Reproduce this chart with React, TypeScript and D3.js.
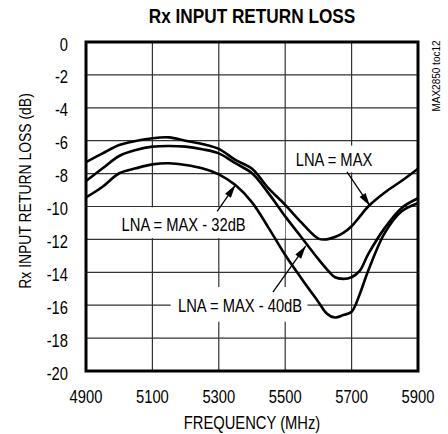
import React from "react";
import * as d3 from "d3";

const TITLE = "Rx INPUT RETURN LOSS";
const X_LABEL = "FREQUENCY (MHz)";
const Y_LABEL = "Rx INPUT RETURN LOSS (dB)";
const TOC = "MAX2850 toc12";

const X_TICKS = [4900, 5100, 5300, 5500, 5700, 5900];
const X_GRID = [5100, 5300, 5500, 5700];
const Y_TICKS = [0, -2, -4, -6, -8, -10, -12, -14, -16, -18, -20];

const FREQ = [4900, 4950, 5000, 5050, 5100, 5150, 5200, 5250, 5300, 5350, 5400, 5450, 5500, 5550, 5600, 5625, 5650, 5675, 5700, 5725, 5750, 5800, 5850, 5900];
const LNA_MAX = [-7.3, -6.77, -6.26, -6.02, -5.85, -5.8, -6.0, -6.2, -6.5, -7.17, -7.7, -8.9, -9.9, -11.0, -11.95, -12.0, -11.85, -11.6, -11.2, -10.6, -10.0, -9.15, -8.45, -7.7];
const LNA_MAX_40 = [-8.45, -7.68, -6.93, -6.57, -6.36, -6.32, -6.36, -6.52, -6.77, -7.37, -7.98, -9.2, -10.6, -11.9, -13.2, -13.8, -14.3, -14.4, -14.3, -13.9, -12.9, -11.3, -10.1, -9.5];
const LNA_MAX_32 = [-9.45, -8.8, -7.98, -7.68, -7.44, -7.37, -7.48, -7.68, -8.05, -8.7, -9.75, -11.3, -12.95, -14.4, -15.8, -16.5, -16.75, -16.6, -16.4, -15.3, -13.9, -11.6, -10.3, -9.8];

const SERIES = [LNA_MAX, LNA_MAX_40, LNA_MAX_32];

const ANNOTATIONS = [
  { text: "LNA = MAX", tx: 5647, ty: -7.17, box: [5612, 5876, -6.3, -7.92], from: [5686, -7.9], to: [5755, -9.95] },
  { text: "LNA = MAX - 32dB", tx: 5194, ty: -11.12, box: [4990, 5500, -10.05, -11.92], from: [5295, -10.3], to: [5350, -8.7] },
  { text: "LNA = MAX - 40dB", tx: 5364, ty: -16.02, box: [5155, 5567, -14.9, -17.0], from: [5463, -15.2], to: [5562, -12.4] },
];

const W = 448;
const H = 434;
const M = { left: 86, right: 418, top: 42, bottom: 371 };
const FONT = "'Liberation Sans', Arial, sans-serif";
const SX = 0.82;

type TP = { x: number; y: number; size: number; anchor?: string; rotate?: number; bold?: boolean; children: React.ReactNode; sx?: number };
function NText({ x, y, size, anchor = "middle", rotate = 0, bold = false, children, sx = SX }: TP) {
  return (
    <text
      transform={`translate(${x},${y}) rotate(${rotate}) scale(${sx},1)`}
      textAnchor={anchor}
      fontFamily={FONT}
      fontSize={size}
      fontWeight={bold ? "bold" : "normal"}
      fill="#000"
    >
      {children}
    </text>
  );
}

export default function App() {
  const x = d3.scaleLinear().domain([4900, 5900]).range([M.left, M.right]);
  const y = d3.scaleLinear().domain([0, -20]).range([M.top, M.bottom]);
  const line = d3
    .line<number>()
    .x((_, i) => x(FREQ[i]))
    .y((d) => y(d))
    .curve(d3.curveCatmullRom.alpha(0.5));

  const arrowHead = (fx: number, fy: number, tx: number, ty: number) => {
    const dx = tx - fx;
    const dy = ty - fy;
    const len = Math.hypot(dx, dy);
    const ux = dx / len;
    const uy = dy / len;
    const hl = 13;
    const hw = 3.6;
    const bx = tx - ux * hl;
    const by = ty - uy * hl;
    return `M${tx},${ty} L${bx - uy * hw},${by + ux * hw} L${bx + uy * hw},${by - ux * hw} Z`;
  };

  return (
    <svg width={W} height={H} style={{ position: "absolute", left: 0, top: 0, background: "#fff" }}>
      <rect x={0} y={0} width={W} height={H} fill="#fff" />
      {X_GRID.map((f) => (
        <line key={"gx" + f} x1={x(f)} x2={x(f)} y1={M.top} y2={M.bottom} stroke="#333" strokeWidth={1.2} />
      ))}
      {Y_TICKS.filter((v) => v !== 0 && v !== -20).map((v) => (
        <line key={"gy" + v} x1={M.left} x2={M.right} y1={y(v)} y2={y(v)} stroke="#333" strokeWidth={1.2} />
      ))}
      {ANNOTATIONS.map((a) => (
        <rect
          key={"b" + a.text}
          x={x(a.box[0])}
          y={y(a.box[2])}
          width={x(a.box[1]) - x(a.box[0])}
          height={y(a.box[3]) - y(a.box[2])}
          fill="#fff"
        />
      ))}
      {SERIES.map((s, i) => (
        <path key={"s" + i} d={line(s) || ""} fill="none" stroke="#000" strokeWidth={2.6} strokeLinejoin="round" />
      ))}
      {ANNOTATIONS.map((a) => (
        <g key={"a" + a.text}>
          <NText x={x(a.tx)} y={y(a.ty) + 6.5} size={18}>
            {a.text}
          </NText>
          <line x1={x(a.from[0])} y1={y(a.from[1])} x2={x(a.to[0])} y2={y(a.to[1])} stroke="#000" strokeWidth={1.3} />
          <path d={arrowHead(x(a.from[0]), y(a.from[1]), x(a.to[0]), y(a.to[1]))} fill="#000" />
        </g>
      ))}
      <rect x={M.left} y={M.top} width={M.right - M.left} height={M.bottom - M.top} fill="none" stroke="#000" strokeWidth={3} />
      {Y_TICKS.map((v) => (
        <NText key={"ty" + v} x={68} y={y(v) + 8.5} size={18} anchor="end">
          {v}
        </NText>
      ))}
      {X_TICKS.map((f) => (
        <NText key={"tx" + f} x={x(f)} y={403} size={18}>
          {f}
        </NText>
      ))}
      <NText x={(M.left + M.right) / 2} y={429} size={18}>
        {X_LABEL}
      </NText>
      <NText x={31} y={191} size={17} rotate={-90}>
        {Y_LABEL}
      </NText>
      <NText x={(M.left + M.right) / 2} y={23} size={21} bold>
        {TITLE}
      </NText>
      <NText x={440} y={76} size={10} rotate={-90} sx={1}>
        {TOC}
      </NText>
    </svg>
  );
}
